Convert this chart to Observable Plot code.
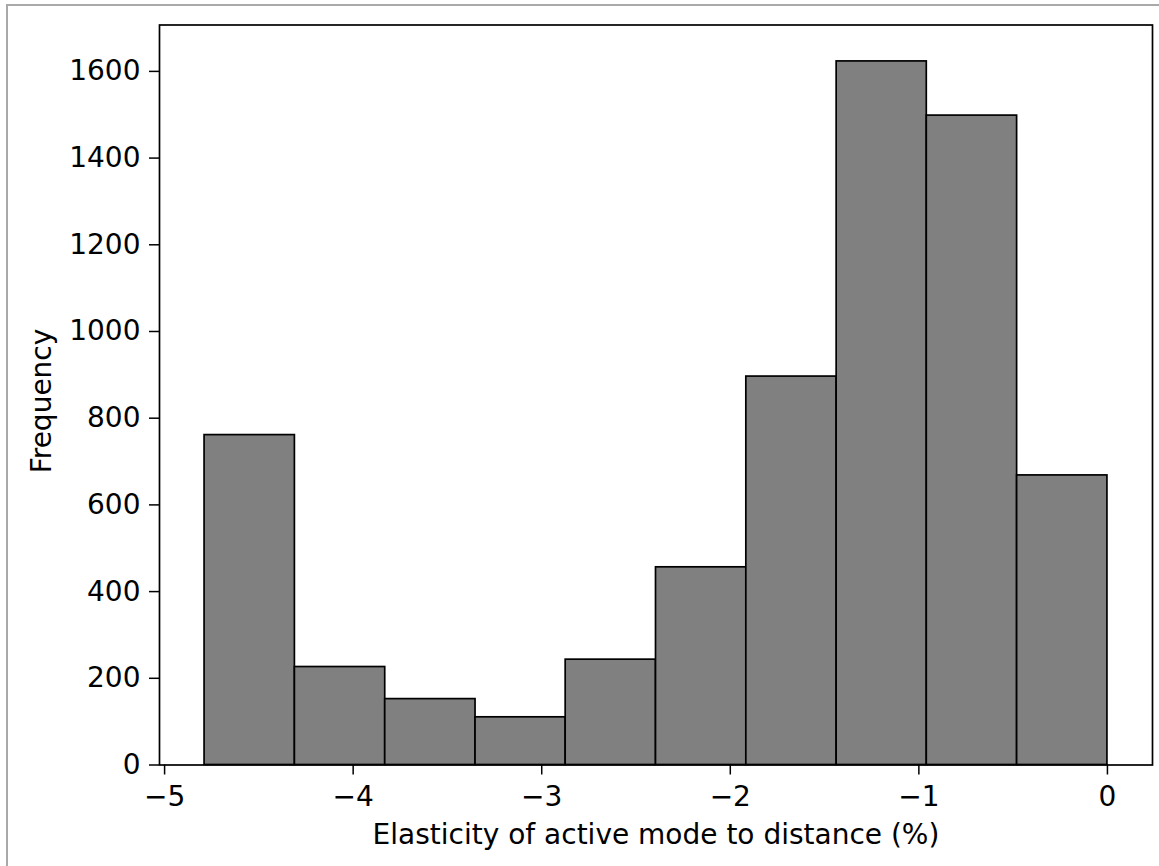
<!DOCTYPE html>
<html>
<head>
<meta charset="utf-8">
<script src="https://cdn.jsdelivr.net/npm/d3@7"></script>
<script src="https://cdn.jsdelivr.net/npm/@observablehq/plot@0.6"></script>
<style>
  html, body { margin: 0; padding: 0; background: #fff; }
  #wrap { position: relative; width: 1159px; height: 866px; overflow: hidden; }
  #border { position: absolute; left: 6px; top: 4px; right: -10px; bottom: -10px;
            border-left: 2px solid #a9a9a9; border-top: 2px solid #a9a9a9; pointer-events: none; }
  #chart { position: absolute; left: 0; top: 0; }
</style>
</head>
<body>
<div id="wrap"><div id="chart"></div><div id="border"></div></div>
<script>
// Histogram bin edges
const binEdges = [-4.788, -4.309, -3.830, -3.351, -2.873, -2.394, -1.915, -1.436, -0.958, -0.479, 0];
// Frequencies per bin
const counts = [761, 226, 152, 110, 243, 456, 896, 1623, 1498, 668];
const xTicks = [-5, -4, -3, -2, -1, 0];
const yTicks = [0, 200, 400, 600, 800, 1000, 1200, 1400, 1600];
const xLabel = "Elasticity of active mode to distance (%)";
const yLabel = "Frequency";

const bins = counts.map((c, i) => ({x1: binEdges[i], x2: binEdges[i + 1], y: c}));

const fontSize = 28;
const chart = Plot.plot({
  width: 1159,
  height: 866,
  marginLeft: 159,
  marginRight: 7,
  marginTop: 24.5,
  marginBottom: 101.5,
  style: {fontFamily: "DejaVu Sans", fontSize: fontSize + "px", color: "#000", background: "transparent"},
  x: {domain: [-5.027, 0.239]},
  y: {domain: [0, 1707]},
  marks: [
    Plot.rectY(bins, {x1: "x1", x2: "x2", y: "y", fill: "#808080", stroke: "#000", strokeWidth: 1.7, inset: 0}),
    Plot.frame({stroke: "#000", strokeWidth: 1.7}),
    Plot.axisX({ticks: xTicks, tickSize: 10, tickPadding: 11, tickFormat: d3.format("d"), label: null, fontSize: fontSize, strokeWidth: 1.5}),
    Plot.axisY({ticks: yTicks, tickSize: 10, tickPadding: 9, tickFormat: d3.format("d"), label: null, fontSize: fontSize, strokeWidth: 1.5}),
    Plot.text([xLabel], {frameAnchor: "bottom", dy: 70, text: d => d, fontSize: fontSize, lineAnchor: "middle", fill: "#000"}),
    Plot.text([yLabel], {frameAnchor: "left", dx: -117, dy: 6, rotate: -90, text: d => d, fontSize: fontSize, textAnchor: "middle", lineAnchor: "middle", fill: "#000"})
  ]
});
document.getElementById("chart").appendChild(chart);
</script>
</body>
</html>
